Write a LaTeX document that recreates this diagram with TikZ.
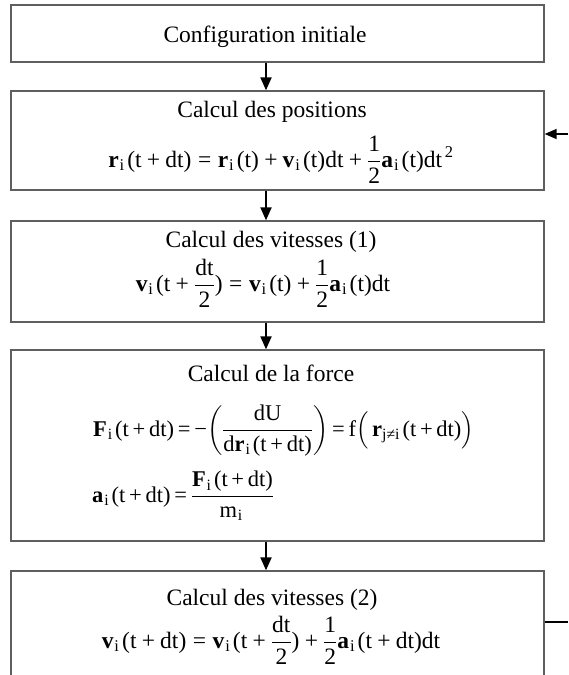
\documentclass[tikz,border=0pt]{standalone}
\usepackage{fix-cm}
\usepackage{amsmath}
\usepackage{fontspec}
\setmainfont{Liberation Serif}
\usetikzlibrary{arrows.meta}
\definecolor{boxgray}{RGB}{95,95,95}
\newcommand\tx[1]{\text{#1}}
\newcommand\bv[1]{\text{\bfseries #1}}
\newcommand\sbi{_{\mkern1mu\text{i}}\mkern2mu}
\newcommand\pl{\mathbin{\text{+}}}
\newcommand\eqs{\mathrel{\text{=}}}
\newcommand\mn{\text{−}}
\newcommand\tightsp{\thickmuskip=3mu\relax\medmuskip=3mu\relax}
\begin{document}
\begin{tikzpicture}[x=1pt,y=-1pt,
  box/.style={draw=boxgray, line width=1.3pt, minimum width=533pt, inner sep=0pt},
  lbl/.style={font=\fontsize{23.5}{28}\selectfont, inner sep=0pt},
  eqn/.style={font=\fontsize{23.5}{28}\selectfont, inner sep=0pt},
  eqf/.style={font=\fontsize{22.5}{27}\selectfont, inner sep=0pt},
  arr/.style={line width=2pt, -{Triangle[length=13pt,width=11pt]}},
  arrs/.style={line width=1.6pt, -{Triangle[length=12pt,width=10pt]}}]
\useasboundingbox (0,0) rectangle (568,675);
\clip (0,0) rectangle (568,675);
% boxes
\node[box, minimum height=57pt]  (b1) at (277.5,33.5) {};
\node[box, minimum height=99pt]  (b2) at (277.5,140.5) {};
\node[box, minimum height=101pt] (b3) at (277.5,271.5) {};
\node[box, minimum height=191pt] (b4) at (277.5,445.5) {};
\node[box, minimum height=200pt] (b5) at (277.5,671) {};
% texts
\node[lbl, anchor=base] (t1) at (265,42) {Configuration initiale};
\node[lbl, anchor=base] (t2) at (272,117) {Calcul des positions};
\node[eqn, anchor=base] (e2) at (281,167)
  {$\bv{r}\sbi\tx{(t}\pl\tx{dt)} \eqs \bv{r}\sbi\tx{(t)} \pl \bv{v}\sbi\tx{(t)dt} \pl \dfrac{\tx{1}}{\tx{2}}\bv{a}\sbi\tx{(t)dt}^{\,\tx{2}}$};
\node[lbl, anchor=base] (t3) at (271,247) {Calcul des vitesses (1)};
\node[eqn, anchor=base] (e3) at (263,291)
  {$\bv{v}\sbi\tx{(t}\pl\dfrac{\tx{dt}}{\tx{2}}\tx{)} \eqs \bv{v}\sbi\tx{(t)}\pl\dfrac{\tx{1}}{\tx{2}}\bv{a}\sbi\tx{(t)dt}$};
\node[lbl, anchor=base] (t4) at (271,381) {Calcul de la force};
\node[eqf, anchor=base west] (e4a) at (93,436)
  {$\tightsp\bv{F}\sbi\tx{(t}\pl\tx{dt)} \eqs \mn\mkern-3mu\left(\dfrac{\tx{dU}}{\tx{d}\bv{r}\sbi\tx{(t}\pl\tx{dt)}}\right) \eqs \tx{f}\Bigl(\,\bv{r}_{\tx{j≠i}}\mkern2mu\tx{(t}\pl\tx{dt)}\Bigr)$};
\node[eqf, anchor=base west] (e4b) at (92,502)
  {$\tightsp\bv{a}\sbi\tx{(t}\pl\tx{dt)} \eqs \dfrac{\bv{F}\sbi\tx{(t}\pl\tx{dt)}}{\tx{m}\sbi}$};
\node[lbl, anchor=base] (t5) at (272,605) {Calcul des vitesses (2)};
\node[eqn, anchor=base] (e5) at (271,648)
  {$\bv{v}\sbi\tx{(t}\pl\tx{dt)} \eqs \bv{v}\sbi\tx{(t}\pl\dfrac{\tx{dt}}{\tx{2}}\tx{)}\pl\dfrac{\tx{1}}{\tx{2}}\bv{a}\sbi\tx{(t}\pl\tx{dt)dt}$};
% connectors
\coordinate (ax) at (266,0);
\draw[arr] (b1.south -| ax) -- (b2.north -| ax);
\draw[arr] (b2.south -| ax) -- (b3.north -| ax);
\draw[arr] (b3.south -| ax) -- (b4.north -| ax);
\draw[arr] (b4.south -| ax) -- (b5.north -| ax);
\coordinate (inR) at (568,134);
\coordinate (outR) at (568,622);
\draw[arrs] (inR) -- (inR -| b2.east);
\draw[line width=1.6pt] (outR -| b5.east) -- (outR);
\end{tikzpicture}
\end{document}
